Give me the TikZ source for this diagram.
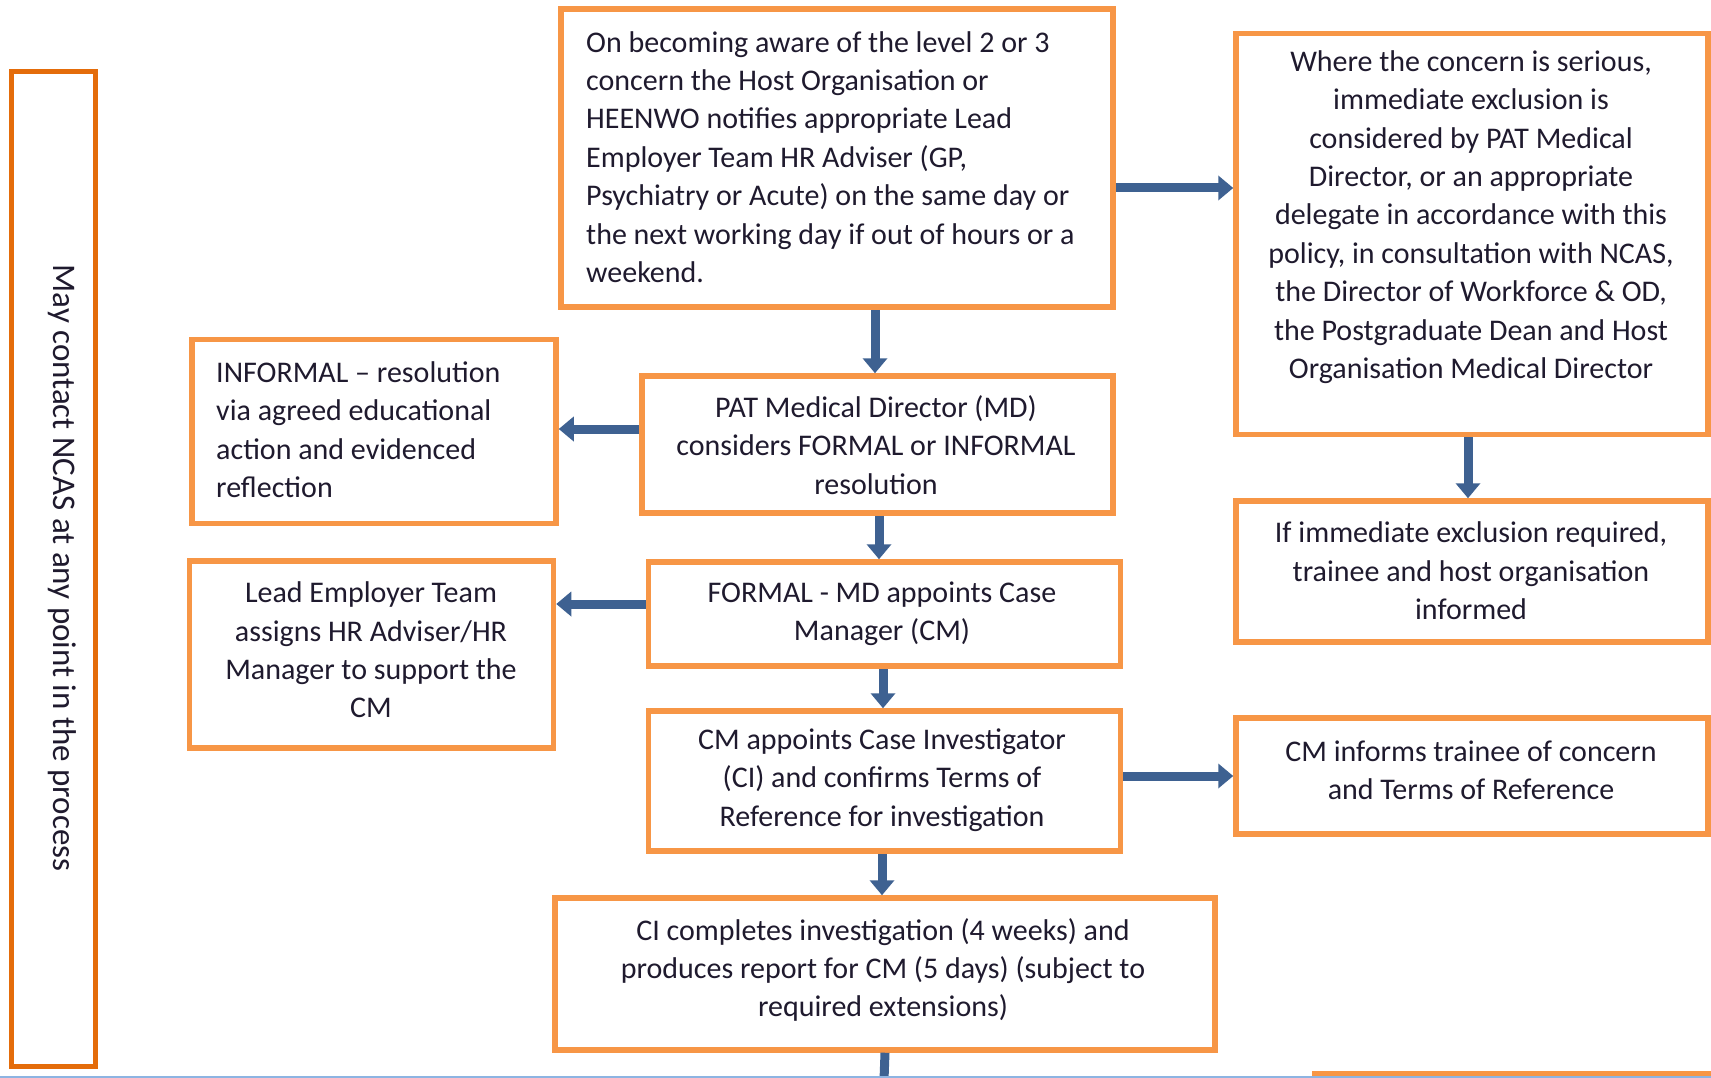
\documentclass[tikz,border=0pt]{standalone}
\usepackage{fontspec}
\setmainfont{Carlito}
\usetikzlibrary{arrows.meta}
\definecolor{boxor}{HTML}{F79646}
\definecolor{sideor}{HTML}{E46C0A}
\definecolor{arrblue}{HTML}{3E6191}
\definecolor{txtc}{HTML}{1F1A2E}
\definecolor{edgeblue}{HTML}{8DB4E2}
\tikzset{
  box/.style={draw=boxor, line width=5.5pt, fill=white, inner sep=0pt, rectangle},
  txt/.style={font=\fontsize{30}{38.4}\selectfont, text=txtc, inner sep=0pt},
  arr/.style={draw=arrblue, line width=9pt, -{Triangle[width=24pt,length=15pt]}}
}
\begin{document}
\begin{tikzpicture}[x=1pt,y=-1pt]
\useasboundingbox (0,0) rectangle (1711,1078);
\fill[white] (0,0) rectangle (1711,1078);

% side box
\node[draw=sideor, line width=5pt, inner sep=0pt, minimum width=84pt, minimum height=994pt] (ncas) at (53,569) {};
\node[txt, font=\fontsize{33}{38}\selectfont, rotate=-90] (ncast) at (62,568) {May contact NCAS at any point in the process};

% boxes
\node[box, minimum width=552pt, minimum height=298pt] (top) at (837,158) {};
\node[box, minimum width=472pt, minimum height=401pt] (rtop) at (1472,234) {};
\node[box, minimum width=364pt, minimum height=184pt] (inf) at (374,431.5) {};
\node[box, minimum width=471pt, minimum height=137pt] (pat) at (877.5,444.5) {};
\node[box, minimum width=364pt, minimum height=187pt] (lead) at (371.5,654.5) {};
\node[box, minimum width=472pt, minimum height=104pt] (formal) at (884.5,614) {};
\node[box, minimum width=472pt, minimum height=141pt] (excl) at (1472,571.5) {};
\node[box, minimum width=472pt, minimum height=140pt] (cmappt) at (884.5,781) {};
\node[box, minimum width=472pt, minimum height=116pt] (cminf) at (1472,776) {};
\node[box, minimum width=660pt, minimum height=152pt] (ci) at (885,974) {};
\node[box, minimum width=420pt, minimum height=100pt] (next) at (1525,1124) {};

% texts
\node[txt, anchor=west, align=left] (topt) at (586,157) {On becoming aware of the level 2 or 3\\concern the Host Organisation or\\HEENWO notifies appropriate Lead\\Employer Team HR Adviser (GP,\\Psychiatry or Acute) on the same day or\\the next working day if out of hours or a\\weekend.};
\node[txt, align=center] (rtopt) at (1471,217) {Where the concern is serious,\\immediate exclusion is\\considered by PAT Medical\\Director, or an appropriate\\delegate in accordance with this\\policy, in consultation with NCAS,\\the Director of Workforce \& OD,\\the Postgraduate Dean and Host\\Organisation Medical Director};
\node[txt, anchor=west, align=left] (inft) at (216,429.5) {INFORMAL – resolution\\via agreed educational\\action and evidenced\\reflection};
\node[txt, align=center] (patt) at (876,445) {PAT Medical Director (MD)\\considers FORMAL or INFORMAL\\resolution};
\node[txt, align=center] (leadt) at (371,650) {Lead Employer Team\\assigns HR Adviser/HR\\Manager to support the\\CM};
\node[txt, align=center] (formalt) at (882,614) {FORMAL - MD appoints Case\\Manager (CM)};
\node[txt, align=center] (exclt) at (1471,571) {If immediate exclusion required,\\trainee and host organisation\\informed};
\node[txt, align=center] (cmapptt) at (882,780) {CM appoints Case Investigator\\(CI) and confirms Terms of\\Reference for investigation};
\node[txt, align=center] (cminft) at (1471,770.5) {CM informs trainee of concern\\and Terms of Reference};
\node[txt, align=center] (cit) at (883,970) {CI completes investigation (4 weeks) and\\produces report for CM (5 days) (subject to\\required extensions)};

% connector columns
\coordinate (c1) at (875,0);
\coordinate (c4) at (879,0);
\coordinate (c6) at (883,0);
\coordinate (c8) at (882,0);
\coordinate (c9) at (1468,0);
\coordinate (r2) at (0,188);
\coordinate (r3) at (0,429);
\coordinate (r5) at (0,604);
\coordinate (r7) at (0,776);
\coordinate (endc) at (884,1080);

\draw[arr] (top.south -| c1) -- (pat.north -| c1);
\draw[arr] (top.east |- r2) -- (rtop.west |- r2);
\draw[arr] (pat.west |- r3) -- (inf.east |- r3);
\draw[arr] (pat.south -| c4) -- (formal.north -| c4);
\draw[arr] (formal.west |- r5) -- (lead.east |- r5);
\draw[arr] (formal.south -| c6) -- (cmappt.north -| c6);
\draw[arr] (cmappt.east |- r7) -- (cminf.west |- r7);
\draw[arr] (cmappt.south -| c8) -- (ci.north -| c8);
\draw[arr] (rtop.south -| c9) -- (excl.north -| c9);
\draw[draw=arrblue, line width=9pt] (ci.south) -- (endc);

\draw[edgeblue, line width=2pt] (0,1077) -- (1711,1077);
\end{tikzpicture}
\end{document}
